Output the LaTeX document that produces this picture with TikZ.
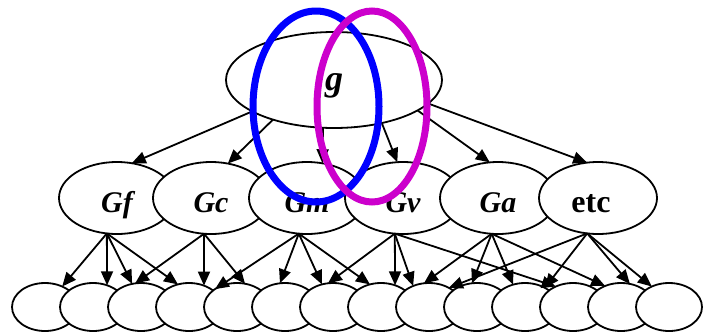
\documentclass[tikz,border=0pt]{standalone}
\usepackage{fontspec}
\setmainfont{Liberation Serif}
\usetikzlibrary{arrows.meta,shapes.geometric}
\definecolor{ovalblue}{RGB}{0,0,255}
\definecolor{ovalmag}{RGB}{204,0,204}
\begin{document}
\begin{tikzpicture}[x=1pt,y=-1pt,
  every node/.style={inner sep=0pt, outer sep=0pt},
  topnode/.style={ellipse, draw, fill=white, line width=1.8pt, minimum width=216pt, minimum height=96pt,
    font=\fontsize{36}{36}\selectfont\bfseries\itshape, text height=20pt, text depth=0pt},
  midnode/.style={ellipse, draw, fill=white, line width=1.8pt, minimum width=116pt, minimum height=72pt,
    font=\fontsize{30}{30}\selectfont\bfseries\itshape, text height=28pt, text depth=0pt},
  leafnode/.style={ellipse, draw, fill=white, line width=1.8pt, minimum width=66pt, minimum height=48pt},
  edgearrow/.style={line width=1.8pt, -{Triangle[length=14pt,width=12pt]}},
  oval/.style={line width=7pt}
]
\useasboundingbox (0,0) rectangle (703,333);

% leaves
\foreach \i in {1,...,14}
  \node[leafnode] (b\i) at ({45+48*(\i-1)},307) {};

% middle row
\node[midnode] (Gf) at (117,198) {Gf};
\node[midnode] (Gc) at (211,198) {Gc};
\node[midnode] (Gm) at (307,198) {Gm};
\node[midnode] (Gv) at (403,198) {Gv};
\node[midnode] (Ga) at (498,198) {Ga};
\node[midnode, minimum width=118pt, font=\fontsize{32}{32}\selectfont\bfseries] (etc) at (598,198) {\hspace*{-14pt}etc};

% top
\node[topnode] (g) at (334,80) {g};

% edges from g
\draw[edgearrow] (g.201) -- (Gf.67);
\draw[edgearrow] (g.213) -- (Gc.64);
\draw[edgearrow] (g.257) -- (Gm.66);
\draw[edgearrow] (g.318) -- (Gv.99);
\draw[edgearrow] (g.340) -- (Ga.103);
\draw[edgearrow] (g.346) -- (etc.107);

% edges to leaves
\draw[edgearrow] (Gf.254) -- (b1.50);
\draw[edgearrow] (Gf.254) -- (b2.57);
\draw[edgearrow] (Gf.254) -- (b3.111);
\draw[edgearrow] (Gf.254) -- (b4.116);

\draw[edgearrow] (Gc.259) -- (b3.104);
\draw[edgearrow] (Gc.259) -- (b4.55);
\draw[edgearrow] (Gc.259) -- (b5.71);

\draw[edgearrow] (Gm.257) -- (b5.141);
\draw[edgearrow] (Gm.257) -- (b6.102);
\draw[edgearrow] (Gm.257) -- (b7.116);
\draw[edgearrow] (Gm.257) -- (b8.116);

\draw[edgearrow] (Gv.257) -- (b7.102);
\draw[edgearrow] (Gv.257) -- (b8.57);
\draw[edgearrow] (Gv.257) -- (b9.127);
\draw[edgearrow] (Gv.257) -- (b12.130);

\draw[edgearrow] (Ga.260) -- (b9.102);
\draw[edgearrow] (Ga.260) -- (b10.102);
\draw[edgearrow] (Ga.260) -- (b11.118);
\draw[edgearrow] (Ga.260) -- (b13.127);

\draw[edgearrow] (etc.253) -- (b9.44);
\draw[edgearrow] (etc.253) -- (b11.44);
\draw[edgearrow] (etc.253) -- (b13.69);
\draw[edgearrow] (etc.253) -- (b14.130);

% highlight ovals
\draw[oval, ovalblue] (316,106.5) ellipse [x radius=63pt, y radius=95.5pt];
\draw[oval, ovalmag] (372,106.5) ellipse [x radius=55pt, y radius=95.5pt];
\end{tikzpicture}
\end{document}
